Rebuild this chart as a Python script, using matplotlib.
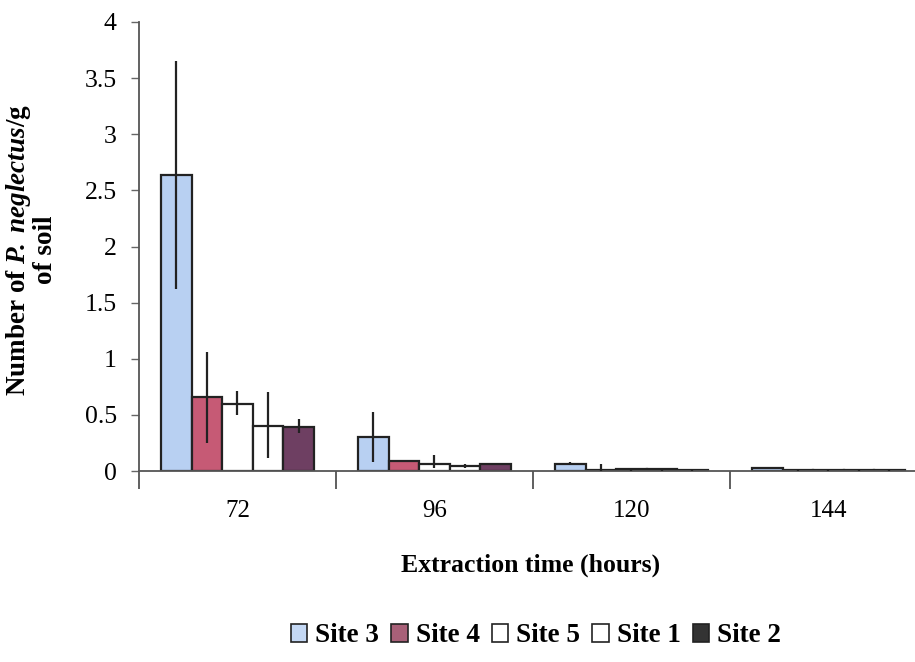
import matplotlib
matplotlib.use("Agg")
import matplotlib.pyplot as plt
import numpy as np
from matplotlib.patches import Patch

# ---- data ----
times = ["72", "96", "120", "144"]
sites = ["Site 3", "Site 4", "Site 5", "Site 1", "Site 2"]
means = {
    "Site 3": [2.64, 0.30, 0.06, 0.03],
    "Site 4": [0.66, 0.09, 0.01, 0.005],
    "Site 5": [0.60, 0.06, 0.015, 0.005],
    "Site 1": [0.40, 0.045, 0.015, 0.005],
    "Site 2": [0.39, 0.06, 0.01, 0.005],
}
err_low = {
    "Site 3": [1.62, 0.08, 0.05, 0.02],
    "Site 4": [0.25, 0.09, 0.0, 0.0],
    "Site 5": [0.50, 0.03, 0.0, 0.0],
    "Site 1": [0.12, 0.03, 0.0, 0.0],
    "Site 2": [0.34, 0.06, 0.0, 0.0],
}
err_high = {
    "Site 3": [3.65, 0.53, 0.08, 0.04],
    "Site 4": [1.06, 0.09, 0.06, 0.01],
    "Site 5": [0.71, 0.14, 0.03, 0.01],
    "Site 1": [0.70, 0.06, 0.03, 0.01],
    "Site 2": [0.46, 0.06, 0.01, 0.01],
}
colors = {
    "Site 3": "#b8d0f2",
    "Site 4": "#c65a75",
    "Site 5": "#ffffff",
    "Site 1": "#ffffff",
    "Site 2": "#6e3f62",
}
legend_colors = {
    "Site 3": "#c4d8f4",
    "Site 4": "#a86078",
    "Site 5": "#ffffff",
    "Site 1": "#ffffff",
    "Site 2": "#333333",
}

plt.rcParams["font.family"] = ["Liberation Serif", "DejaVu Serif"]
plt.rcParams["mathtext.fontset"] = "custom"
plt.rcParams["mathtext.rm"] = "Liberation Serif:bold"
plt.rcParams["mathtext.bf"] = "Liberation Serif:bold"
plt.rcParams["mathtext.it"] = "Liberation Serif:italic:bold"
try:
    plt.rcParams["mathtext.bfit"] = "Liberation Serif:italic:bold"
except KeyError:
    pass

fig = plt.figure(figsize=(9.15, 6.62), dpi=100)
ax = fig.add_axes([139 / 915, 1 - 471 / 662, 776 / 915, (471 - 22) / 662])

x = np.arange(len(times))
w = 0.155
for i, s in enumerate(sites):
    pos = x + (i - 2) * w
    m = np.array(means[s])
    ax.bar(pos, m, width=w, color=colors[s], edgecolor="#222222", linewidth=1.6, zorder=2)
    ax.vlines(pos, err_low[s], err_high[s], color="#222222", linewidth=1.6, zorder=3)

ax.set_xlim(-0.5, 3.44)
ax.set_ylim(0, 4)
ax.set_yticks(np.arange(0, 4.01, 0.5))
ax.set_yticklabels(["0", "0.5", "1", "1.5", "2", "2.5", "3", "3.5", "4"])
ax.set_xticks(x)
ax.set_xticklabels(times)
ax.set_xticks(np.arange(-0.5, 3.5, 1.0), minor=True)
ax.tick_params(axis="x", which="major", length=0, pad=21, labelsize=18)
ax.tick_params(axis="x", which="minor", length=13, width=1.2, direction="out", color="#444444")
ax.tick_params(axis="y", which="major", length=6, width=1.0, direction="out", labelsize=18.5, pad=10, color="#666666")
for sp in ["top", "right"]:
    ax.spines[sp].set_visible(False)
ax.spines["left"].set_color("#555555")
ax.spines["bottom"].set_color("#555555")
ax.spines["left"].set_linewidth(1.3)
ax.spines["bottom"].set_linewidth(1.3)

fig.text(31 / 915, 1 - 250 / 662,
         "Number of $\\mathit{P\\!{.}\\ neglectus}$/g\nof soil",
         rotation=90, ha="center", va="center", multialignment="center",
         fontsize=19.5, fontweight="bold", linespacing=1.0)
fig.text(531 / 915, 1 - 565 / 662, "Extraction time (hours)",
         ha="center", va="center", fontsize=18.5, fontweight="bold")

handles = [Patch(facecolor=legend_colors[s], edgecolor="#222222", linewidth=1.2) for s in sites]
fig.legend(handles, sites, loc="center", bbox_to_anchor=(536 / 915, 1 - 636 / 662),
           ncol=5, frameon=False, handlelength=0.6, handleheight=0.6,
           handletextpad=0.3, columnspacing=0.45, borderpad=0.2,
           prop={"family": "Liberation Serif", "weight": "bold", "size": 19.5})

fig.savefig("out.png", dpi=100)
